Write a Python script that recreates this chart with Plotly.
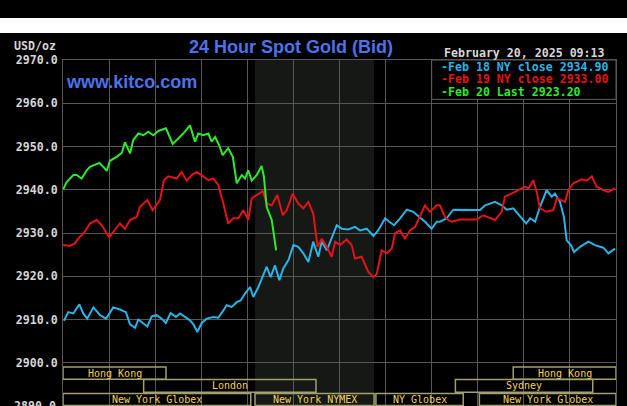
import plotly.graph_objects as go

# ---------------- data ----------------
# time in hours (ET) since midnight, price USD/oz
blue_hours = [0.04, 0.23, 0.45, 0.71, 0.88, 1.05, 1.32, 1.61, 1.87, 2.18, 2.47, 2.73, 2.91, 3.13, 3.27, 3.49,
              3.66, 3.85, 4.07, 4.28, 4.46, 4.67, 4.90, 5.08, 5.30, 5.51, 5.66, 5.83, 6.02, 6.24, 6.52, 6.74,
              6.96, 7.10, 7.32, 7.54, 7.71, 7.90, 8.12, 8.26, 8.48, 8.69, 8.84, 9.01, 9.20, 9.39, 9.56, 9.78,
              10.00, 10.21, 10.43, 10.65, 10.86, 11.08, 11.23, 11.45, 11.66, 11.88, 12.10, 12.38, 12.67, 12.89,
              13.18, 13.47, 13.68, 13.98, 14.16, 14.37, 14.63, 14.92, 15.20, 15.49, 15.71, 16.00, 16.22, 16.36,
              16.65, 16.94, 18.10, 18.32, 18.75, 19.04, 19.26, 19.54, 19.84, 20.10, 20.27, 20.49, 20.70, 20.99,
              21.21, 21.35, 21.57, 21.74, 21.86, 22.04, 22.18, 22.44, 22.80, 23.09, 23.45, 23.67, 23.96]
blue_values = [2909.7, 2911.7, 2911.4, 2913.5, 2911.4, 2910.2, 2912.8, 2911.0, 2910.2, 2912.8, 2912.3, 2911.7,
               2908.9, 2908.1, 2910.0, 2909.0, 2908.4, 2910.7, 2911.0, 2910.2, 2909.2, 2911.5, 2910.6, 2911.4,
               2910.6, 2909.8, 2908.9, 2907.1, 2909.2, 2910.2, 2910.6, 2910.4, 2912.1, 2913.3, 2912.9, 2914.0,
               2914.4, 2916.0, 2917.5, 2915.2, 2917.5, 2920.2, 2922.2, 2919.8, 2922.5, 2919.1, 2921.8, 2923.7,
               2927.2, 2926.8, 2925.3, 2923.3, 2928.0, 2924.5, 2928.0, 2926.0, 2928.7, 2931.8, 2931.0, 2930.8,
               2931.4, 2930.6, 2931.0, 2929.3, 2930.6, 2933.4, 2932.6, 2931.8, 2933.4, 2935.4, 2934.9, 2933.7,
               2932.6, 2931.0, 2932.6, 2932.6, 2933.4, 2935.4, 2935.3, 2936.4, 2937.2, 2936.4, 2935.4, 2935.7,
               2933.7, 2932.2, 2933.4, 2932.6, 2936.0, 2939.9, 2938.4, 2939.1, 2937.2, 2933.7, 2928.3, 2927.2,
               2925.6, 2926.8, 2928.0, 2927.2, 2926.6, 2925.3, 2926.4]

red_hours = [0.01, 0.30, 0.52, 0.66, 0.95, 1.17, 1.46, 1.68, 2.01, 2.26, 2.47, 2.69, 2.91, 3.20, 3.34, 3.66,
             3.89, 4.21, 4.38, 4.57, 4.93, 5.15, 5.37, 5.59, 5.80, 6.09, 6.31, 6.52, 6.74, 6.96, 7.17, 7.39,
             7.61, 7.83, 8.04, 8.19, 8.41, 8.67, 8.84, 9.06, 9.30, 9.54, 9.71, 9.97, 10.21, 10.43, 10.65, 10.86,
             11.05, 11.23, 11.45, 11.66, 11.81, 12.02, 12.31, 12.53, 12.67, 12.96, 13.25, 13.47, 13.62, 13.83,
             14.05, 14.27, 14.41, 14.63, 14.84, 15.06, 15.28, 15.49, 15.71, 15.93, 16.22, 16.36, 16.50, 16.58,
             16.72, 16.87, 17.23, 17.96, 18.24, 18.75, 19.04, 19.18, 19.47, 19.76, 20.05, 20.20, 20.41, 20.56,
             20.70, 20.99, 21.28, 21.43, 21.79, 21.93, 22.15, 22.51, 22.73, 22.95, 23.16, 23.45, 23.67, 23.96]
red_values = [2927.2, 2927.0, 2927.6, 2928.7, 2930.3, 2932.2, 2933.0, 2931.8, 2929.0, 2930.6, 2932.2, 2931.0,
              2933.0, 2933.7, 2936.0, 2937.6, 2935.3, 2937.6, 2942.2, 2943.1, 2942.6, 2944.1, 2942.1, 2943.4,
              2944.1, 2943.1, 2942.2, 2942.6, 2941.1, 2936.8, 2932.2, 2933.4, 2933.4, 2935.3, 2933.0, 2938.0,
              2938.8, 2939.7, 2936.8, 2936.4, 2938.8, 2934.1, 2935.3, 2939.1, 2936.8, 2935.7, 2937.2, 2934.5,
              2926.8, 2928.7, 2926.8, 2924.5, 2928.0, 2927.2, 2928.5, 2927.2, 2924.1, 2924.5, 2921.0, 2919.8,
              2920.6, 2926.0, 2925.3, 2926.4, 2929.9, 2930.6, 2928.7, 2930.6, 2931.4, 2933.7, 2936.4, 2934.9,
              2936.4, 2936.4, 2934.9, 2933.7, 2933.0, 2932.6, 2933.1, 2933.1, 2934.1, 2933.0, 2934.9, 2938.4,
              2939.1, 2939.9, 2940.7, 2940.3, 2942.2, 2939.5, 2935.7, 2934.9, 2935.3, 2938.0, 2937.2, 2939.9,
              2941.5, 2942.4, 2942.1, 2943.1, 2940.7, 2939.9, 2939.5, 2940.3]

green_hours = [0.01, 0.16, 0.45, 0.59, 0.81, 1.03, 1.17, 1.58, 1.75, 1.90, 2.04, 2.33, 2.55, 2.69, 2.91, 3.05,
               3.27, 3.49, 3.70, 3.92, 4.14, 4.47, 4.76, 5.00, 5.22, 5.51, 5.73, 5.87, 6.09, 6.31, 6.45, 6.60,
               6.78, 6.93, 7.17, 7.37, 7.54, 7.76, 7.90, 8.04, 8.19, 8.41, 8.62, 8.72, 8.84, 9.06, 9.25]
green_values = [2940.1, 2941.8, 2943.4, 2943.4, 2942.6, 2944.5, 2945.3, 2946.2, 2945.3, 2944.4, 2946.7, 2947.6,
                2948.5, 2951.0, 2948.4, 2951.5, 2953.0, 2952.6, 2953.4, 2952.6, 2953.6, 2954.2, 2950.6, 2951.9,
                2953.0, 2954.9, 2951.1, 2953.0, 2952.6, 2953.0, 2951.1, 2952.2, 2950.3, 2948.0, 2949.6, 2947.6,
                2941.5, 2943.4, 2942.6, 2944.5, 2942.1, 2943.4, 2945.5, 2943.0, 2936.0, 2933.0, 2926.0]

series_names = ["Feb 18 NY close 2934.90", "Feb 19 NY close 2933.00", "Feb 20 Last 2923.20"]
y_ticks = [2890, 2900, 2910, 2920, 2930, 2940, 2950, 2960, 2970]

nymex_hours = [8.333, 13.5]

# trading sessions: (name, start hour, end hour, row)
session_names = ["Hong Kong", "London", "New York Globex", "New York NYMEX", "NY Globex",
                 "Hong Kong", "Sydney", "New York Globex"]
session_start = [0.0, 3.5, 0.0, 8.333, 13.58, 19.54, 17.03, 18.07]
session_end = [4.47, 10.98, 8.15, 13.5, 17.37, 24.0, 22.99, 24.0]
session_row = [0, 1, 2, 2, 2, 0, 1, 2]

title_text = "24 Hour Spot Gold (Bid)"
date_text = "February 20, 2025 09:13"

# ---------------- styling ----------------
MONO = "DejaVu Sans Mono"
SANS = "Liberation Sans, Arial"
BLUE, RED, GREEN = "#2ab4e6", "#e31414", "#2cea2c"
GRID = "#575757"
BOX = "#a39f70"
SESS_TXT = "#f2d25e"
TXT = "#d6d6d6"
TITLE_C = "#4d72ea"

W, H = 627, 406
ML, MR, MT, MB = 63, 11, 60, 0
pw, ph = W - ML - MR, H - MT - MB


def px_x(px):
    return (px - ML) / pw


def px_y(py):
    return (H - MB - py) / ph


fig = go.Figure()
for hrs, vals, col in [(blue_hours, blue_values, BLUE), (red_hours, red_values, RED),
                       (green_hours, green_values, GREEN)]:
    fig.add_trace(go.Scatter(x=hrs, y=vals, mode="lines", line=dict(color=col, width=2),
                             hoverinfo="skip"))

shapes = []
# white band at top of screenshot
shapes.append(dict(type="rect", xref="paper", yref="paper", x0=px_x(-5), x1=px_x(W + 5),
                   y0=px_y(33), y1=px_y(18), fillcolor="white", line_width=0, layer="above"))
# NYMEX shading
shapes.append(dict(type="rect", xref="x", yref="y", x0=nymex_hours[0], x1=nymex_hours[1],
                   y0=2890, y1=2970, fillcolor="#151815", line_width=0, layer="below"))
# legend box
shapes.append(dict(type="rect", xref="x", yref="y", x0=16.0, x1=24.0, y0=2960.9, y1=2970,
                   fillcolor="black", line=dict(color="#5f5f5f", width=1), layer="above"))
row_top = [2899.0, 2896.1, 2892.9]
row_bot = [2896.2, 2893.2, 2890.1]
annotations = []
for name, s, e, r in zip(session_names, session_start, session_end, session_row):
    shapes.append(dict(type="rect", xref="x", yref="y", x0=s, x1=e, y0=row_bot[r], y1=row_top[r],
                       fillcolor="rgba(0,0,0,0)", line=dict(color=BOX, width=1.5), layer="above"))
    annotations.append(dict(x=(s + e) / 2, y=(row_bot[r] + row_top[r]) / 2, xref="x", yref="y",
                            text=name, showarrow=False, xanchor="center", yanchor="middle",
                            font=dict(family=MONO, size=10, color=SESS_TXT)))

annotations += [
    dict(x=px_x(291), y=px_y(47), xref="paper", yref="paper", text=title_text, showarrow=False,
         xanchor="center", yanchor="middle",
         font=dict(family=SANS, size=18, color=TITLE_C, weight="bold")),
    dict(x=0.05, y=2964.9, xref="x", yref="y", text="www.kitco.com", showarrow=False,
         xanchor="left", yanchor="middle",
         font=dict(family=SANS, size=18, color=TITLE_C, weight="bold")),
    dict(x=px_x(607), y=px_y(53), xref="paper", yref="paper", text=date_text, showarrow=False,
         xanchor="right", yanchor="middle",
         font=dict(family=MONO, size=11.6, color=TXT, weight="bold")),
    dict(x=px_x(58), y=px_y(46), xref="paper", yref="paper", text="USD/oz", showarrow=False,
         xanchor="right", yanchor="middle",
         font=dict(family=MONO, size=11.6, color=TXT, weight="bold")),
    # bottom tick label, partly cut off by the page edge as in the original screenshot
    dict(x=px_x(58), y=y_ticks[0], xref="paper", yref="y", text=f"{y_ticks[0]:.1f}",
         showarrow=False, xanchor="right", yanchor="middle",
         font=dict(family=MONO, size=11.6, color=TXT, weight="bold")),
]
for i, (nm, col) in enumerate(zip(series_names, [BLUE, RED, GREEN])):
    annotations.append(dict(x=16.33, y=[2968.45, 2965.5, 2962.6][i], xref="x", yref="y",
                            text="-" + nm, showarrow=False, xanchor="left", yanchor="middle",
                            font=dict(family=MONO, size=11.6, color=col, weight="bold")))

fig.update_layout(
    width=W, height=H, margin=dict(l=ML, r=MR, t=MT, b=MB, pad=0),
    paper_bgcolor="black", plot_bgcolor="black", showlegend=False,
    shapes=shapes, annotations=annotations,
    xaxis=dict(range=[0, 24], dtick=2, tick0=0, showgrid=True, gridcolor=GRID, gridwidth=1,
               showticklabels=False, zeroline=False, showline=True, linecolor=GRID, mirror=True,
               fixedrange=True),
    yaxis=dict(range=[2890, 2970], tickvals=y_ticks, tickformat=".1f", showgrid=True,
               gridcolor=GRID, gridwidth=1, zeroline=False, showline=True, linecolor=GRID,
               mirror=True, ticks="outside", ticklen=2, tickcolor="black",
               tickfont=dict(family=MONO, size=11.6, color=TXT, weight="bold"),
               fixedrange=True),
)

fig.write_html("out.html", config={"displayModeBar": False},
               post_script="document.body.style.margin='0';document.body.style.overflow='hidden';"
                           "document.body.style.background='black';")
